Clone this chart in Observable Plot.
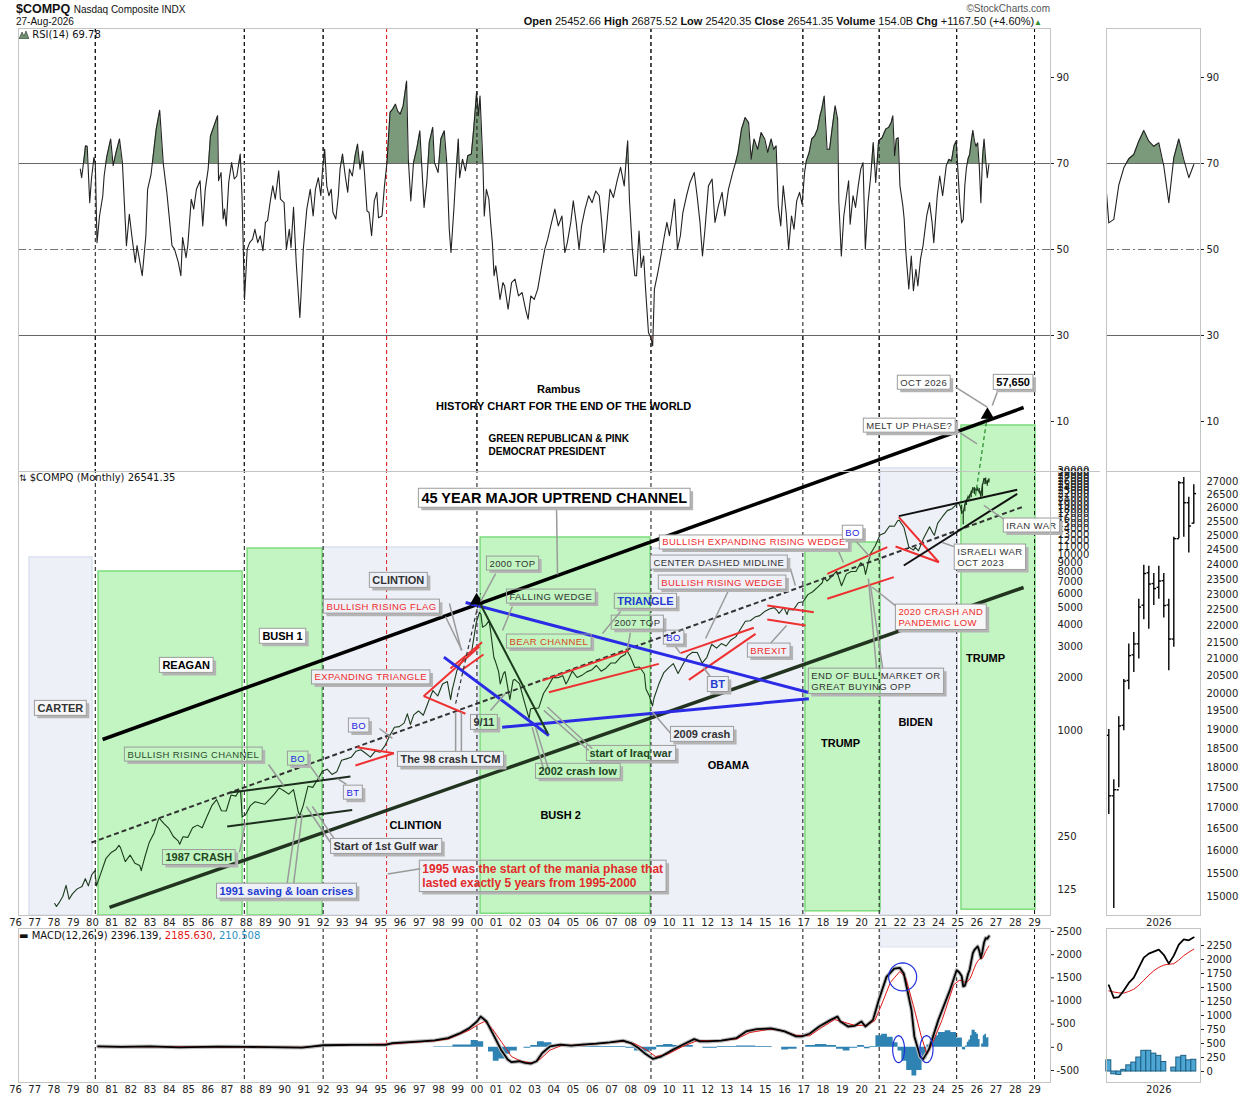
<!DOCTYPE html>
<html><head><meta charset="utf-8">
<script src="https://cdn.jsdelivr.net/npm/d3@7"></script>
<script src="https://cdn.jsdelivr.net/npm/@observablehq/plot@0.6"></script>
<style>
body{margin:0;background:#fff;}
#chart{position:relative;width:1250px;height:1100px;background:#fff;overflow:hidden;font-family:"Liberation Sans",Arial,sans-serif;}
.frame{position:absolute;border:1px solid #c4c4c4;box-sizing:border-box;pointer-events:none;}
.lbl{position:absolute;white-space:nowrap;color:#111;}
</style></head><body>
<div id="chart">
  <div class="lbl" style="left:16px;top:2px;font:bold 12.5px 'Liberation Sans Narrow','Liberation Sans',Arial;">$COMPQ <span style="font-weight:normal;font-size:10px">Nasdaq Composite INDX</span></div>
  <div class="lbl" style="left:16px;top:16px;font:10px 'Liberation Sans Narrow','Liberation Sans',Arial;">27-Aug-2026</div>
  <div class="lbl" style="right:208px;top:15px;font:11px 'Liberation Sans Narrow','Liberation Sans',Arial;"><b>Open</b> 25452.66 <b>High</b> 26875.52 <b>Low</b> 25420.35 <b>Close</b> 26541.35 <b>Volume</b> 154.0B <b>Chg</b> +1167.50 (+4.60%)<span style="color:#2a8a2a;font-size:8px">▲</span></div>
  <div class="lbl" style="right:200px;top:3px;font:10px 'Liberation Sans',Arial;color:#555">©StockCharts.com</div>
</div>
<script>
// ---------------- DATA ----------------
const yearTicks = d3.range(1976, 2030);
const priceTicks = [125, 250, 1000, 2000, 3000, 4000, 5000, 6000, 7000, 8000, 9000, 10000, 11000, 12000, 13000, 14000, 15000, 16000, 17000, 18000, 19000, 20000, 21000, 22000, 23000, 24000, 25000, 26000, 27000, 28000, 29000, 30000];
const rsiTicks = [10, 30, 50, 70, 90];
const macdTicks = [-500, 0, 500, 1000, 1500, 2000, 2500];
const miniPriceTicks = d3.range(15000, 27001, 500);
const miniMacdTicks = [0, 250, 500, 750, 1000, 1250, 1500, 1750, 2000, 2250];

const eventLines = [1980.15, 1987.9, 1992.0, 2000.0, 2009.05, 2016.95, 2020.92, 2024.95, 2029.0];
const maniaLine = [1995.3];

// monthly closes, year as decimal
const priceHistory = [
[1978.04,104],[1978.13,100],[1978.29,106],[1978.46,114],[1978.63,132],[1978.79,110],[1978.96,118],
[1979.21,126],[1979.46,130],[1979.63,144],[1979.79,131],[1979.96,151],
[1980.13,160],[1980.21,131],[1980.46,157],[1980.71,188],[1980.96,202],
[1981.21,210],[1981.38,223],[1981.46,216],[1981.71,180],[1981.96,196],
[1982.21,176],[1982.46,171],[1982.54,160],[1982.71,188],[1982.96,232],
[1983.21,262],[1983.46,319],[1983.71,297],[1983.96,279],
[1984.21,250],[1984.46,236],[1984.54,226],[1984.71,249],[1984.96,247],
[1985.21,280],[1985.46,290],[1985.71,280],[1985.96,325],
[1986.21,374],[1986.46,405],[1986.71,350],[1986.96,349],
[1987.21,430],[1987.46,424],[1987.63,455],[1987.71,444],[1987.79,323],[1987.96,331],
[1988.21,374],[1988.46,394],[1988.71,387],[1988.96,381],
[1989.21,406],[1989.46,435],[1989.71,472],[1989.96,455],
[1990.21,435],[1990.46,462],[1990.71,344],[1990.79,330],[1990.96,373],
[1991.21,482],[1991.46,475],[1991.71,527],[1991.96,586],
[1992.21,603],[1992.46,563],[1992.71,583],[1992.96,677],
[1993.21,690],[1993.46,704],[1993.71,763],[1993.96,777],
[1994.21,743],[1994.46,706],[1994.71,764],[1994.96,752],
[1995.21,817],[1995.46,933],[1995.71,1044],[1995.96,1052],
[1996.21,1101],[1996.38,1243],[1996.54,1080],[1996.71,1226],[1996.96,1291],
[1997.21,1221],[1997.46,1442],[1997.71,1686],[1997.96,1570],
[1998.21,1835],[1998.46,1895],[1998.63,1499],[1998.71,1694],[1998.96,2193],
[1999.21,2461],[1999.46,2686],[1999.71,2746],[1999.96,4069],
[2000.13,4697],[2000.21,4573],[2000.29,3861],[2000.46,3966],[2000.63,4206],[2000.71,3673],[2000.88,2598],[2000.96,2471],
[2001.13,2152],[2001.21,1840],[2001.38,2110],[2001.46,2160],[2001.71,1498],[2001.88,1931],[2001.96,1950],
[2002.21,1845],[2002.46,1463],[2002.71,1172],[2002.79,1330],[2002.96,1336],
[2003.21,1341],[2003.46,1623],[2003.71,1787],[2003.96,2003],
[2004.21,1994],[2004.46,2048],[2004.63,1838],[2004.71,1897],[2004.96,2175],
[2005.21,1999],[2005.46,2057],[2005.71,2152],[2005.96,2205],
[2006.21,2340],[2006.46,2172],[2006.71,2258],[2006.96,2415],
[2007.21,2422],[2007.46,2603],[2007.71,2701],[2007.79,2859],[2007.96,2652],
[2008.21,2279],[2008.46,2293],[2008.71,2092],[2008.79,1721],[2008.96,1577],
[2009.13,1377],[2009.21,1529],[2009.46,1835],[2009.71,2122],[2009.96,2269],
[2010.21,2398],[2010.46,2109],[2010.71,2369],[2010.96,2653],
[2011.21,2781],[2011.46,2774],[2011.71,2415],[2011.96,2605],
[2012.21,3091],[2012.46,2935],[2012.71,3116],[2012.96,3020],
[2013.21,3268],[2013.46,3403],[2013.71,3771],[2013.96,4177],
[2014.21,4199],[2014.46,4408],[2014.71,4493],[2014.96,4736],
[2015.21,4901],[2015.46,4987],[2015.63,4776],[2015.71,4620],[2015.96,5007],
[2016.13,4558],[2016.21,4870],[2016.46,4843],[2016.71,5312],[2016.96,5383],
[2017.21,5912],[2017.46,6140],[2017.71,6496],[2017.96,6903],
[2018.04,7411],[2018.21,7063],[2018.46,7510],[2018.71,8046],[2018.96,6635],
[2019.21,7729],[2019.46,8006],[2019.71,7999],[2019.96,8973],
[2020.13,8567],[2020.21,7700],[2020.46,10058],[2020.71,11168],[2020.96,12888],
[2021.21,13247],[2021.46,14504],[2021.71,14448],[2021.88,15538],[2021.96,15645],
[2022.21,14220],[2022.46,11029],[2022.71,10576],[2022.79,10988],[2022.96,10466],
[2023.21,12222],[2023.46,13788],[2023.54,14346],[2023.71,13219],[2023.79,12851],[2023.96,15011],
[2024.21,16379],[2024.46,17733],[2024.71,18189],[2024.96,19311],
[2025.04,19627],[2025.13,18847]
];

const rsiHistory = [
[1979.37,68.7],[1979.44,66.7],[1979.55,70.6],[1979.64,74.1],[1979.73,74.0],[1979.86,60.9],[1979.95,66.4],[1980.08,71.4],[1980.15,70.2],[1980.24,51.6],[1980.37,57.8],[1980.54,62.5],[1980.61,67.1],[1980.74,71.4],[1980.95,75.7],[1981.08,69.5],[1981.23,72.6],[1981.41,75.7],[1981.56,70.2],[1981.77,50.9],[1981.92,58.2],[1982.05,53.2],[1982.23,47.0],[1982.32,50.9],[1982.59,43.9],[1982.78,53.2],[1982.87,64.0],[1983.05,67.5],[1983.32,78.0],[1983.50,82.4],[1983.69,69.8],[1983.87,63.3],[1984.14,50.9],[1984.27,50.1],[1984.47,47.0],[1984.60,43.9],[1984.69,52.8],[1984.87,48.1],[1984.96,50.9],[1985.14,61.7],[1985.27,59.4],[1985.41,64.0],[1985.60,66.0],[1985.74,55.5],[1985.87,64.0],[1986.02,68.7],[1986.14,76.4],[1986.33,78.8],[1986.51,81.1],[1986.56,66.0],[1986.69,67.9],[1986.80,57.1],[1986.87,59.4],[1986.96,55.5],[1987.09,65.6],[1987.24,70.2],[1987.38,66.4],[1987.51,67.1],[1987.69,72.2],[1987.78,62.5],[1987.91,38.4],[1988.05,50.1],[1988.18,51.6],[1988.33,52.4],[1988.45,54.7],[1988.60,51.6],[1988.73,53.2],[1988.87,49.7],[1989.00,56.3],[1989.11,56.7],[1989.24,60.9],[1989.38,64.8],[1989.51,61.7],[1989.69,68.3],[1989.78,61.7],[1989.97,60.9],[1990.09,50.1],[1990.24,54.7],[1990.33,50.5],[1990.46,59.8],[1990.60,47.0],[1990.79,34.2],[1990.97,50.1],[1991.15,59.4],[1991.33,64.0],[1991.48,57.8],[1991.60,64.0],[1991.75,66.7],[1991.88,62.5],[1991.97,68.7],[1992.08,73.3],[1992.19,64.8],[1992.30,62.5],[1992.42,64.0],[1992.51,58.6],[1992.66,57.1],[1992.79,62.5],[1992.88,68.7],[1993.01,72.2],[1993.15,67.1],[1993.28,63.3],[1993.37,68.7],[1993.52,67.1],[1993.66,71.8],[1993.79,74.5],[1993.92,68.7],[1994.06,72.9],[1994.15,67.9],[1994.28,59.0],[1994.39,58.6],[1994.52,53.2],[1994.66,61.3],[1994.79,63.3],[1994.88,57.4],[1995.06,57.8],[1995.19,64.8],[1995.32,70.2],[1995.48,81.9],[1995.61,82.6],[1995.76,83.8],[1995.88,82.2],[1996.01,81.5],[1996.16,83.4],[1996.34,89.2],[1996.43,71.0],[1996.56,61.3],[1996.70,70.2],[1996.88,73.7],[1997.03,77.6],[1997.12,70.2],[1997.25,59.8],[1997.39,65.6],[1997.52,74.9],[1997.70,78.4],[1997.79,70.2],[1997.98,67.9],[1998.12,75.7],[1998.30,77.6],[1998.43,70.2],[1998.56,54.7],[1998.65,49.3],[1998.80,59.4],[1998.89,66.4],[1999.03,75.7],[1999.10,66.7],[1999.25,71.0],[1999.40,68.3],[1999.52,71.8],[1999.71,72.2],[1999.83,78.0],[1999.98,86.5],[2000.07,81.1],[2000.16,85.7],[2000.31,70.2],[2000.38,57.8],[2000.49,64.0],[2000.62,61.7],[2000.71,56.3],[2000.80,51.6],[2000.89,43.9],[2000.98,46.2],[2001.07,43.1],[2001.20,38.4],[2001.35,42.3],[2001.44,41.5],[2001.62,36.1],[2001.80,42.3],[2001.98,43.1],[2002.16,39.2],[2002.35,40.0],[2002.53,36.1],[2002.66,33.8],[2002.80,39.2],[2002.98,38.4],[2003.16,40.8],
[2003.40,47.0],[2003.53,50.1],[2003.68,52.4],[2003.86,55.9],[2004.05,59.4],[2004.23,55.5],[2004.42,57.8],[2004.57,49.3],[2004.70,51.6],[2004.88,56.3],[2005.01,61.3],[2005.16,56.3],[2005.31,50.1],[2005.44,55.5],[2005.62,59.4],[2005.81,62.5],[2005.99,60.9],[2006.18,63.6],[2006.36,62.5],[2006.49,56.3],[2006.60,49.3],[2006.73,54.7],[2006.92,64.0],[2007.10,62.1],[2007.29,66.0],[2007.47,69.1],[2007.66,64.8],[2007.75,70.2],[2007.84,75.3],[2007.93,61.7],[2008.08,50.1],[2008.21,43.9],[2008.30,43.9],[2008.43,54.3],[2008.54,45.8],[2008.67,48.5],[2008.77,40.8],[2008.92,30.7],[2009.04,29.5],[2009.14,27.6],[2009.23,40.8],[2009.41,44.7],[2009.60,49.3],[2009.75,53.2],[2009.88,56.3],[2010.01,53.2],[2010.16,57.8],[2010.28,61.7],[2010.43,50.1],[2010.58,53.2],[2010.71,58.6],[2010.90,62.5],[2011.08,65.6],[2011.30,67.9],[2011.45,62.5],[2011.60,56.3],[2011.73,48.5],[2011.86,54.7],[2012.04,64.8],[2012.23,66.4],[2012.38,56.3],[2012.56,60.2],[2012.75,63.3],[2012.89,57.8],[2013.08,64.0],[2013.30,67.9],[2013.45,70.2],[2013.58,72.6],[2013.76,78.0],[2013.95,80.7],[2014.13,79.5],[2014.26,71.0],[2014.41,75.7],[2014.60,73.3],[2014.78,77.2],[2014.97,75.7],[2015.12,72.6],[2015.30,75.7],[2015.43,73.3],[2015.56,74.1],[2015.67,60.2],[2015.80,55.5],[2015.93,64.8],[2016.08,58.6],[2016.21,50.1],[2016.36,57.8],[2016.49,54.7],[2016.63,61.3],[2016.78,63.3],[2016.91,60.5],[2017.04,67.9],[2017.13,70.6],[2017.28,72.6],[2017.41,75.7],[2017.56,76.4],[2017.71,78.0],[2017.84,81.1],[2017.93,82.6],[2018.06,85.7],[2018.21,73.3],[2018.34,73.3],[2018.48,78.4],[2018.63,83.4],[2018.76,80.3],[2018.82,61.3],[2018.95,48.5],[2019.08,57.8],[2019.22,62.5],[2019.33,66.0],[2019.41,55.9],[2019.56,62.5],[2019.69,59.8],[2019.83,64.8],[2019.96,68.7],[2020.08,70.2],[2020.20,50.1],[2020.34,60.9],[2020.48,67.1],[2020.61,74.9],[2020.74,65.6],[2020.89,75.3],[2021.07,76.0],[2021.26,78.0],[2021.41,78.4],[2021.54,79.5],[2021.63,81.1],[2021.72,71.8],[2021.81,75.7],[2021.91,76.0],[2022.00,64.8],[2022.15,60.2],[2022.22,57.1],[2022.31,49.3],[2022.46,40.8],[2022.59,48.5],[2022.70,40.4],[2022.83,45.4],[2022.93,41.5],[2023.07,47.8],[2023.20,50.9],[2023.39,57.8],[2023.54,60.9],[2023.67,56.3],[2023.76,51.6],[2023.94,62.5],[2024.07,67.1],[2024.22,62.5],[2024.41,69.5],[2024.55,71.0],[2024.68,70.6],[2024.81,74.1],[2024.93,75.3],[2025.00,69.5],[2025.11,60.9]
];

const macdHistory = [
[1980.3,20],[1981.5,10],[1983.0,20],[1984.5,0],[1986.5,15],[1988.0,10],[1990.9,-5],[1991.5,20],[1992.0,45],[1993.5,55],[1995.25,55],[1995.6,90],[1997.1,130],[1997.8,150],[1998.5,200],[1999.1,300],[1999.6,414],[2000.0,557],[2000.2,664],[2000.5,557],[2000.9,236],[2001.25,-50],[2001.6,-264],[2001.8,-321],[2002.2,-300],[2002.5,-336],[2002.8,-350],[2003.1,-300],[2003.4,-121],[2003.8,21],[2004.35,57],[2004.9,36],[2005.45,57],[2006.2,78],[2006.9,107],[2007.6,143],[2008.0,93],[2008.4,-14],[2008.7,-121],[2009.16,-250],[2009.6,-193],[2010.2,-50],[2010.7,57],[2011.3,178],[2011.6,128],[2012.0,128],[2012.7,143],[2013.5,200],[2014.0,343],[2014.55,393],[2015.3,407],[2015.65,378],[2016.0,343],[2016.6,236],[2016.9,236],[2017.3,293],[2017.8,450],[2018.4,593],[2018.75,664],[2018.9,557],[2019.3,450],[2019.65,464],[2020.0,557],[2020.2,450],[2020.6,593],[2020.9,1021],[2021.3,1521],[2021.7,1700],[2022.0,1714],[2022.2,1593],[2022.6,807],[2022.75,236],[2023.05,-193],[2023.2,-260],[2023.5,-50],[2024.0,593],[2024.6,1236],[2024.95,1664],[2025.08,1620]
];
const signalHistory = [
[1980.3,15],[1985.0,10],[1990.9,0],[1992.0,40],[1995.6,75],[1997.8,140],[1998.5,180],[1999.6,370],[2000.1,500],[2000.4,560],[2000.8,400],[2001.3,100],[2001.8,-200],[2002.3,-300],[2002.9,-340],[2003.3,-250],[2003.8,-60],[2004.4,40],[2005.5,50],[2007.6,130],[2008.2,80],[2008.8,-50],[2009.3,-200],[2009.9,-150],[2010.7,20],[2011.5,150],[2012.5,140],[2013.5,180],[2014.2,320],[2015.2,390],[2015.8,370],[2016.6,260],[2017.3,250],[2017.9,420],[2018.6,600],[2019.1,540],[2019.7,470],[2020.3,480],[2020.7,580],[2021.1,980],[2021.5,1400],[2022.0,1640],[2022.3,1500],[2022.7,900],[2023.1,250],[2023.4,-150],[2023.7,100],[2024.2,600],[2024.8,1350],[2025.08,1445]
];
const histHistory = [
[1980.0,0],[1997.5,0],[1998.0,10],[1999.5,50],[1999.9,150],[2000.2,120],[2000.5,0],[2000.7,-100],[2001.0,-300],[2001.3,-250],[2001.6,-150],[2001.9,-80],[2002.3,0],[2002.6,-20],[2003.0,40],[2003.3,120],[2003.7,100],[2004.1,40],[2004.6,0],[2005.5,20],[2006.5,20],[2007.5,20],[2008.0,-20],[2008.4,-80],[2008.8,-100],[2009.2,-60],[2009.5,40],[2009.9,60],[2010.5,40],[2011.0,40],[2011.5,0],[2012.0,-20],[2013.0,20],[2014.0,30],[2015.0,20],[2015.7,0],[2016.0,-60],[2016.4,-40],[2016.9,0],[2017.3,40],[2017.9,60],[2018.5,40],[2018.9,-40],[2019.2,-80],[2019.6,-20],[2020.0,40],[2020.3,-30],[2020.6,20],[2020.9,250],[2021.2,280],[2021.5,220],[2021.8,100],[2022.0,-80],[2022.2,-300],[2022.5,-500],[2022.75,-620],[2023.0,-500],[2023.3,-250],[2023.5,50],[2023.8,250],[2024.2,320],[2024.5,360],[2024.8,320],[2025.08,200]
];

// last 18 monthly bars (Mar 2025 .. Aug 2026), right-hand panels
const recentMonths = ["2025-03","2025-04","2025-05","2025-06","2025-07","2025-08","2025-09","2025-10","2025-11","2025-12","2026-01","2026-02","2026-03","2026-04","2026-05","2026-06","2026-07","2026-08"];
const recentOpen  = [18847,17299,17446,19114,20370,21122,21456,22660,23725,23366,23242,23462,22668,21600,24900,26950,26200,25452.66];
const recentHigh  = [19000,17700,19350,20400,21450,21800,22850,23980,23950,23700,23950,23700,22850,24950,27000,27150,26400,26875.52];
const recentLow   = [16850,14750,17500,18970,20100,20600,21000,22200,21900,22650,22850,22250,20650,21350,24900,24950,24400,25420.35];
const recentClose = [17300,17450,19100,20350,21100,21450,22600,23700,23350,23200,23450,22650,21600,24900,26950,26200,25350,26541.35];
const recentRsi   = [56.2,57,65,69,71.1,72.1,75.2,77.7,75.2,74,74.8,69.4,60.9,71.3,75.7,70.9,66.7,69.78];
const recentMacd  = [1540,1316,1330,1445,1582,1675,1855,2034,2106,2142,2178,2085,1927,2070,2264,2358,2343,2396.139];
const recentSignal= [1440,1420,1405,1400,1430,1470,1540,1630,1720,1800,1860,1900,1915,1925,1990,2070,2130,2185.63];
const recentHist  = [200,-50,-60,30,110,160,250,370,370,320,280,170,0,70,250,280,200,210.508];
const miniRsiEdge = [[-0.45,63]];

const termBoxes = [
 {name:"Carter", party:"D", start:1976.73, end:1980.0, top:9610, bottom:89},
 {name:"Reagan", party:"R", start:1980.32, end:1987.81, top:8000, bottom:89},
 {name:"Bush 1", party:"R", start:1988.07, end:1991.97, top:10800, bottom:89},
 {name:"Clinton", party:"D", start:1991.97, end:2000.08, top:10950, bottom:89},
 {name:"Bush 2", party:"R", start:2000.19, end:2009.03, top:12480, bottom:91},
 {name:"Obama", party:"D", start:2009.03, end:2017.09, top:10800, bottom:89},
 {name:"Trump", party:"R", start:2017.09, end:2020.99, top:11690, bottom:94},
 {name:"Biden", party:"D", start:2020.99, end:2025.0, top:30770, bottom:89, macdTop:2155},
 {name:"Trump 2", party:"R", start:2025.2, end:2029.05, top:54000, bottom:96}
];

const trendLines = [
 {style:"channel", x1:1980.53, y1:889, x2:2028.43, y2:68300},
 {style:"channelLow", x1:1980.89, y1:98.9, x2:2028.43, y2:6490},
 {style:"mid", x1:1979.95, y1:231, x2:2028.43, y2:18700},
 {style:"thin", x1:1987.18, y1:444, x2:1993.42, y2:548},
 {style:"thin", x1:1987.01, y1:285, x2:1993.51, y2:354},
 {style:"red", x1:1993.77, y1:804, x2:1995.68, y2:743},
 {style:"red", x1:1993.68, y1:633, x2:1995.68, y2:743},
 {style:"red", x1:1997.23, y1:1566, x2:2000.13, y2:3000},
 {style:"red", x1:1997.23, y1:1566, x2:1999.40, y2:1244},
 {style:"red", x1:1998.62, y1:2250, x2:2000.27, y2:3170},
 {style:"red", x1:1999.25, y1:2220, x2:2000.34, y2:2700},
 {style:"dash", x1:1998.89, y1:1420, x2:2000.19, y2:6000},
 {style:"blue", x1:1999.41, y1:5330, x2:2017.25, y2:1644},
 {style:"blue", x1:2001.31, y1:1044, x2:2017.26, y2:1514},
 {style:"blue", x1:1998.28, y1:2610, x2:2003.74, y2:937},
 {style:"wedge", x1:2000.08, y1:5470, x2:2003.69, y2:958},
 {style:"red", x1:2003.40, y1:1920, x2:2007.90, y2:2850},
 {style:"red", x1:2003.74, y1:1650, x2:2009.46, y2:2390},
 {style:"red", x1:2010.59, y1:2750, x2:2014.40, y2:3830},
 {style:"red", x1:2011.02, y1:1940, x2:2014.49, y2:3540},
 {style:"red", x1:2015.10, y1:5130, x2:2017.52, y2:4700},
 {style:"red", x1:2015.10, y1:4270, x2:2017.09, y2:3950},
 {style:"red", x1:2018.22, y1:7760, x2:2021.34, y2:11000},
 {style:"red", x1:2018.22, y1:5600, x2:2021.68, y2:7430},
 {style:"red", x1:2021.94, y1:16300, x2:2024.02, y2:9030},
 {style:"red", x1:2021.77, y1:11100, x2:2024.02, y2:9030},
 {style:"black2", x1:2021.94, y1:16500, x2:2028.10, y2:23300},
 {style:"black2", x1:2022.20, y1:8650, x2:2028.10, y2:22100},
 {style:"melt", x1:2025.93, y1:21600, x2:2026.55, y2:62000}
];
const markers = [{x:1999.98, y:5470}, {x:2026.55, y:62000}];

const callouts = [
 {text:"CARTER", x:1977.14, y:1442, style:"boldDark", box:"light"},
 {text:"REAGAN", x:1983.64, y:2530, style:"boldBlack", box:"white"},
 {text:"BUSH 1", x:1988.84, y:3700, style:"boldBlack", box:"white"},
 {text:"CLINTION", x:1994.56, y:7690, style:"boldDark", box:"lav"},
 {text:"BULLISH RISING FLAG", x:1992.17, y:5400, style:"capsRed", box:"lav"},
 {text:"EXPANDING TRIANGLE", x:1991.55, y:2140, style:"capsRed", box:"lav"},
 {text:"BO", x:1993.47, y:1140, style:"capsBlue", box:"lav"},
 {text:"BULLISH RISING CHANNEL", x:1981.82, y:780, style:"capsGreen", box:"none"},
 {text:"BO", x:1990.30, y:740, style:"capsBlue", box:"none"},
 {text:"BT", x:1993.21, y:474, style:"capsBlue", box:"lav"},
 {text:"The 98 crash LTCM", x:1996.02, y:740, style:"boldDark", box:"lav"},
 {text:"1987 CRASH", x:1983.80, y:205, style:"boldGreen", box:"none"},
 {text:"Start of 1st Gulf war", x:1992.54, y:237, style:"boldDark", box:"lav"},
 {text:"1991 saving & loan crises", x:1986.61, y:132, style:"boldBlue", box:"lav"},
 {text:"45 YEAR MAJOR UPTREND CHANNEL", x:1997.11, y:23100, style:"boldBig", box:"white"},
 {text:"2000 TOP", x:2000.65, y:9480, style:"capsDark", box:"none"},
 {text:"FALLING WEDGE", x:2001.69, y:6160, style:"capsDark", box:"none"},
 {text:"TRIANGLE", x:2007.30, y:5850, style:"boldBlue", box:"none"},
 {text:"2007 TOP", x:2007.14, y:4380, style:"capsDark", box:"none"},
 {text:"BEAR CHANNEL", x:2001.69, y:3420, style:"capsBear", box:"none"},
 {text:"BO", x:2009.85, y:3600, style:"capsBlue", box:"none"},
 {text:"BT", x:2012.14, y:1970, style:"boldBlue", box:"lav"},
 {text:"BULLISH EXPANDING RISING WEDGE", x:2009.64, y:12500, style:"capsRed", box:"white"},
 {text:"CENTER DASHED MIDLINE", x:2009.18, y:9610, style:"capsDark", box:"lav"},
 {text:"BULLISH RISING WEDGE", x:2009.59, y:7400, style:"capsRed", box:"lav"},
 {text:"BREXIT", x:2014.22, y:3040, style:"capsRed", box:"lav"},
 {text:"END OF BULL MARKET OR\nGREAT BUYING OPP", x:2017.39, y:2190, style:"capsDark", box:"none"},
 {text:"9/11", x:1999.82, y:1200, style:"boldDark", box:"none"},
 {text:"start of Iraq war", x:2005.85, y:800, style:"boldGreen", box:"none"},
 {text:"2002 crash low", x:2003.20, y:633, style:"boldGreen", box:"none"},
 {text:"2009 crash", x:2010.22, y:1026, style:"boldDark", box:"lav"},
 {text:"1995 was the start of the mania phase that\nlasted exactly 5 years from 1995-2000", x:1997.16, y:178, style:"boldRed", box:"none"},
 {text:"BO", x:2019.16, y:14200, style:"capsBlue", box:"white"},
 {text:"2020 CRASH AND\nPANDEMIC LOW", x:2021.92, y:5060, style:"capsRed", box:"light"},
 {text:"ISRAELI WAR\nOCT 2023", x:2024.98, y:11100, style:"capsDark", box:"white"},
 {text:"IRAN WAR", x:2027.53, y:15600, style:"capsDark", box:"white"},
 {text:"MELT UP PHASE?", x:2020.25, y:57600, style:"capsDark", box:"white"},
 {text:"OCT 2026", x:2022.02, y:101000, style:"capsDark", box:"white"},
 {text:"57,650", x:2027.01, y:102500, style:"boldBlack", box:"white"}
];
const calloutPointers = [
 [1998.57,5260,1999.19,2850],[1998.36,4440,1999.22,2850],[1994.93,1026,1995.60,901],[1989.16,641,1989.94,487],
 [1991.34,625,1991.86,520],[1993.21,494,1992.75,533],[1998.89,760,1998.89,1270],[1999.19,760,1999.19,1270],
 [1987.65,203,1987.96,300],[1992.38,231,1991.13,370],[1992.64,237,1991.44,370],[1990.13,136,1990.65,336],
 [1990.47,136,1990.91,336],[2004.14,18000,2004.19,7690],[2000.97,7790,2000.19,5400],[2001.84,5060,2001.33,3700],
 [2007.47,4740,2006.53,3560],[2007.98,3600,2007.82,2880],[2010.32,3000,2010.58,2740],[2012.14,2020,2011.78,2280],
 [2018.74,10800,2019.06,9000],[2016.30,8320,2016.56,6660],[2013.08,6240,2011.89,3330],[2015.26,3120,2016.10,3950],
 [2020.78,2250,2020.36,7300],[2021.10,2250,2020.47,6660],[2000.70,1300,2001.48,1620],[2005.82,770,2003.48,1300],
 [2006.00,787,2003.66,1360],[2003.48,593,2002.87,1044],[2003.74,593,2003.05,1044],[2010.17,937,2009.13,1270],
 [1997.06,164,1995.36,153],[2019.68,12000,2020.47,9610],[2021.86,5020,2020.56,6510],[2024.89,11000,2024.20,11700],
 [2027.49,15600,2026.36,19000],[2024.53,54000,2026.01,42500],[2024.89,89100,2026.54,68600],[2027.06,83500,2026.80,70100]
];
const presidentLabels = [
 {text:"CLINTION", x:1996.80, y:289}, {text:"BUSH 2", x:2004.35, y:329}, {text:"OBAMA", x:2013.08, y:633},
 {text:"TRUMP", x:2018.91, y:844}, {text:"BIDEN", x:2022.81, y:1110}, {text:"TRUMP", x:2026.45, y:2560}
];
const titleCenter = [
 {text:"Rambus", x:2004.25, y:86500},
 {text:"HISTORY CHART FOR THE END OF THE WORLD", x:2004.51, y:69200}
];
const titleLeft = [
 {text:"GREEN REPUBLICAN & PINK", x:2000.60, y:45500},
 {text:"DEMOCRAT PRESIDENT", x:2000.60, y:38400}
];
const macdCircles = [{cx:2022.14, cy:1520, rx:0.73, ry:302}, {cx:2021.93, cy:-40, rx:0.31, ry:291}, {cx:2023.38, cy:-40, rx:0.34, ry:291}];

// ---------------- SCALES / LAYOUT ----------------
const X_DOMAIN = [1975.48, 2029.83];
const FRAME_LEFT = 1976.16;
const PRICE_DOMAIN = [88.95, 9.71e6];
const RSI_DOMAIN = [-1.63, 101.4];
const MACD_DOMAIN = [-759, 2565];
const MINI_X = [-0.46, 18.34];
const MINI_PRICE = [14602, 27385];
const MINI_MACD = [-196, 2554];
const fmtYear = d => String(d).slice(2);
const recentDate = i => 2025 + (2 + i + 0.5) / 12;

const priceSeries = priceHistory.concat(recentClose.map((v, i) => [recentDate(i), v]));
const rsiSeries = rsiHistory.concat(recentRsi.map((v, i) => [recentDate(i), v]));
const macdSeries = macdHistory.concat(recentMacd.map((v, i) => [recentDate(i), v]));
const signalSeries = signalHistory.concat(recentSignal.map((v, i) => [recentDate(i), v]));
const histSeries = histHistory.concat(recentHist.map((v, i) => [recentDate(i), v]));
const recentBars = recentMonths.map((m, i) => ({i, date: recentDate(i), o: recentOpen[i], h: recentHigh[i], l: recentLow[i], c: recentClose[i], rsi: recentRsi[i], macd: recentMacd[i], sig: recentSignal[i], hist: recentHist[i]}));
const miniRsiSeries = miniRsiEdge.concat(recentRsi.map((v, i) => [i, v]));

const chart = document.getElementById("chart");
const DJ = "'DejaVu Sans', Verdana, sans-serif";
const baseStyle = {background: "transparent", fontFamily: DJ, fontSize: "10px", color: "#222", overflow: "visible"};
function mount(svg) {
  svg.style.position = "absolute"; svg.style.left = "0px"; svg.style.top = "0px";
  svg.style.maxWidth = "none"; svg.style.background = "transparent";
  chart.appendChild(svg);
  return svg;
}

const lineStyles = {
  channel: {stroke:"#000", strokeWidth:3.5},
  channelLow: {stroke:"#22331f", strokeWidth:3.5},
  mid: {stroke:"#333", strokeWidth:2, strokeDasharray:"5,3"},
  thin: {stroke:"#1d2d1d", strokeWidth:2},
  red: {stroke:"#ee3030", strokeWidth:2},
  blue: {stroke:"#2b2be6", strokeWidth:3},
  wedge: {stroke:"#1c3a1c", strokeWidth:2},
  dash: {stroke:"#333", strokeWidth:1.2, strokeDasharray:"4,3"},
  black2: {stroke:"#111", strokeWidth:2},
  melt: {stroke:"#2f8f2f", strokeWidth:1.3, strokeDasharray:"4,3"}
};

// ---------------- PRICE PANEL ----------------
mount(Plot.plot({
  width: 1100, height: 940, marginLeft: 5, marginRight: 50, marginTop: 28, marginBottom: 25,
  style: baseStyle,
  x: {domain: X_DOMAIN, ticks: yearTicks, tickFormat: fmtYear, tickSize: 0, tickPadding: 3, label: null},
  y: {type: "log", domain: PRICE_DOMAIN, axis: null},
  marks: [
    Plot.rect(termBoxes.filter(d => d.party === "D"), {x1: "start", x2: "end", y1: "bottom", y2: "top", fill: "#eef0f8", stroke: "#dbe1f0", strokeWidth: 1.5}),
    Plot.rect(termBoxes.filter(d => d.party === "R"), {x1: "start", x2: "end", y1: "bottom", y2: "top", fill: "#c2f5c2", stroke: "#7ddc7d", strokeWidth: 1.5}),
    Plot.ruleX(eventLines, {stroke: "#111", strokeWidth: 1, strokeDasharray: "4,3"}),
    Plot.ruleX(maniaLine, {stroke: "#e02424", strokeWidth: 1, strokeDasharray: "4,3"}),
    Plot.line(priceSeries, {x: d => d[0], y: d => d[1], stroke: "#1b3b1b", strokeWidth: 1.1}),
    Plot.ruleX(recentBars, {x: "date", y1: "l", y2: "h", stroke: "#1b3b1b", strokeWidth: 1.2}),
    ...Object.entries(lineStyles).map(([k, s]) => Plot.link(trendLines.filter(d => d.style === k), {x1: "x1", y1: "y1", x2: "x2", y2: "y2", ...s})),
    Plot.dot(markers, {x: "x", y: "y", symbol: "triangle", r: 5, fill: "#000", stroke: "none"}),
    // right-hand price scale labels
    Plot.link(priceTicks, {x1: X_DOMAIN[1], x2: X_DOMAIN[1], y1: d => d, y2: d => d, dx: 0, stroke: "#888", strokeWidth: 1, markerEnd: null}),
    Plot.text(priceTicks, {x: X_DOMAIN[1], y: d => d, text: d => String(d), textAnchor: "start", dx: 7, fontSize: 10, fill: "#222", fontFamily: DJ})
  ]
}));

// ---------------- RSI PANEL ----------------
const rsiPlot = (xDomain, leftEdge, series, axisOpts, showRules) => Plot.plot({
  width: axisOpts.width, height: 480, marginLeft: axisOpts.left, marginRight: 50, marginTop: 28, marginBottom: 9,
  style: baseStyle,
  x: {domain: xDomain, axis: null},
  y: {domain: RSI_DOMAIN, axis: "right", ticks: rsiTicks, tickSize: 3, tickPadding: 3, label: null},
  marks: [
    Plot.areaY(series, {x: d => d[0], y1: 70, y2: d => Math.max(d[1], 30), fill: "#7b9a7b"}),
    Plot.areaY(series, {x: d => d[0], y1: 30, y2: d => Math.min(d[1], 70), fill: "#f08a8a"}),
    Plot.rect([0], {x1: xDomain[0], x2: xDomain[1], y1: 30, y2: 70, fill: "white"}),
    showRules ? Plot.ruleX(eventLines, {stroke: "#111", strokeWidth: 1, strokeDasharray: "4,3"}) : null,
    showRules ? Plot.ruleX(maniaLine, {stroke: "#e02424", strokeWidth: 1, strokeDasharray: "4,3"}) : null,
    Plot.ruleY([70, 30], {x1: leftEdge, x2: xDomain[1], stroke: "#666", strokeWidth: 1}),
    Plot.ruleY([50], {x1: leftEdge, x2: xDomain[1], stroke: "#777", strokeWidth: 1, strokeDasharray: "8,3,2,3"}),
    Plot.line(series, {x: d => d[0], y: d => d[1], stroke: "#222", strokeWidth: 1.1})
  ].filter(Boolean)
});
mount(rsiPlot(X_DOMAIN, FRAME_LEFT, rsiSeries, {width: 1100, left: 5}, true));
mount(rsiPlot(MINI_X, MINI_X[0], miniRsiSeries, {width: 1250, left: 1106}, false));

// ---------------- CALLOUTS ----------------
const LS = "'Liberation Sans', Arial, sans-serif";
const calloutStyles = {
  boldDark:  {fontFamily: LS, fontWeight: "bold", fontSize: 11, fill: "#333"},
  boldBlack: {fontFamily: LS, fontWeight: "bold", fontSize: 11, fill: "#000"},
  boldBig:   {fontFamily: LS, fontWeight: "bold", fontSize: 14.5, fill: "#000"},
  boldGreen: {fontFamily: LS, fontWeight: "bold", fontSize: 11, fill: "#1f471f"},
  boldBlue:  {fontFamily: LS, fontWeight: "bold", fontSize: 11, fill: "#1e3ccf"},
  boldRed:   {fontFamily: LS, fontWeight: "bold", fontSize: 12, fill: "#e32b2b"},
  capsRed:   {fontFamily: LS, fontSize: 9.5, fill: "#ee2a2a"},
  capsBear:  {fontFamily: LS, fontSize: 9.5, fill: "#d9441a"},
  capsDark:  {fontFamily: LS, fontSize: 9.5, fill: "#333"},
  capsBlue:  {fontFamily: LS, fontSize: 9.5, fill: "#2525e0"},
  capsGreen: {fontFamily: LS, fontSize: 9.5, fill: "#2d4a2d"}
};
const letterSpacing = {capsRed: 0.4, capsBear: 0.4, capsDark: 0.4, capsBlue: 0.4, capsGreen: 0.4};
const boxFill = {none: "none", white: "#ffffff", lav: "#eef0f8", light: "#f6f6f6"};
const textGroups = Object.keys(calloutStyles).map(k => ({k, data: callouts.filter(c => c.style === k)})).filter(g => g.data.length);

const calloutSvg = mount(Plot.plot({
  width: 1100, height: 940, marginLeft: 5, marginRight: 50, marginTop: 28, marginBottom: 25,
  style: baseStyle,
  x: {domain: X_DOMAIN, axis: null},
  y: {type: "log", domain: PRICE_DOMAIN, axis: null},
  marks: [
    Plot.link(calloutPointers, {x1: d => d[0], y1: d => d[1], x2: d => d[2], y2: d => d[3], stroke: "#9a9a9a", strokeWidth: 1.5}),
    ...textGroups.map(g => Plot.text(g.data, {x: "x", y: "y", text: "text", textAnchor: "start", lineAnchor: "top", lineHeight: 1.2, ...calloutStyles[g.k]})),
    Plot.text(presidentLabels, {x: "x", y: "y", text: "text", textAnchor: "middle", fontFamily: LS, fontWeight: "bold", fontSize: 11, fill: "#000"}),
    Plot.text(titleCenter, {x: "x", y: "y", text: "text", textAnchor: "middle", fontFamily: LS, fontWeight: "bold", fontSize: 11, fill: "#000"}),
    Plot.text(titleLeft, {x: "x", y: "y", text: "text", textAnchor: "start", fontFamily: LS, fontWeight: "bold", fontSize: 10, fill: "#000"})
  ]
}));

(function decorate(svg) {
  const ns = "http://www.w3.org/2000/svg";
  const groups = svg.querySelectorAll('g[aria-label="text"]');
  textGroups.forEach((grp, gi) => {
    const g = groups[gi]; if (!g) return;
    const texts = g.querySelectorAll("text");
    texts.forEach((t, i) => {
      const c = grp.data[i]; if (!c) return;
      if (letterSpacing[grp.k]) t.setAttribute("letter-spacing", letterSpacing[grp.k]);
      const bb = t.getBBox();
      const x = bb.x - 3, y = bb.y - 1.5, w = bb.width + 6, h = bb.height + 3;
      const tr = t.getAttribute("transform");
      const sh = document.createElementNS(ns, "path");
      sh.setAttribute("d", `M${x + w + 1.5},${y + 3}V${y + h + 1.5}H${x + 3}`);
      sh.setAttribute("fill", "none"); sh.setAttribute("stroke", "#b4b4b4"); sh.setAttribute("stroke-width", "3");
      const r = document.createElementNS(ns, "rect");
      r.setAttribute("x", x); r.setAttribute("y", y); r.setAttribute("width", w); r.setAttribute("height", h);
      r.setAttribute("fill", boxFill[c.box]); r.setAttribute("stroke", "#9c9c9c"); r.setAttribute("stroke-width", "1");
      if (tr) { sh.setAttribute("transform", tr); r.setAttribute("transform", tr); }
      g.insertBefore(sh, t); g.insertBefore(r, t);
    });
  });
})(calloutSvg);

// ---------------- MACD PANEL ----------------
const ellipsePts = macdCircles.flatMap((c, k) => d3.range(0, 361, 10).map(a => ({k, x: c.cx + c.rx * Math.cos(a * Math.PI / 180), y: c.cy + c.ry * Math.sin(a * Math.PI / 180)})));
mount(Plot.plot({
  width: 1100, height: 1100, marginLeft: 5, marginRight: 50, marginTop: 928, marginBottom: 18,
  style: baseStyle,
  x: {domain: X_DOMAIN, ticks: yearTicks, tickFormat: fmtYear, tickSize: 0, tickPadding: 3, label: null},
  y: {domain: MACD_DOMAIN, axis: "right", ticks: macdTicks, tickFormat: d => String(d), tickSize: 3, tickPadding: 3, label: null},
  marks: [
    Plot.rect(termBoxes.filter(d => d.macdTop), {x1: "start", x2: "end", y1: "macdTop", y2: MACD_DOMAIN[1], fill: "#eef0f8", stroke: "#dbe1f0"}),
    Plot.ruleX(eventLines, {stroke: "#111", strokeWidth: 1, strokeDasharray: "4,3"}),
    Plot.ruleX(maniaLine, {stroke: "#e02424", strokeWidth: 1, strokeDasharray: "4,3"}),
    Plot.areaY(histSeries, {x: d => d[0], y: d => d[1], fill: "#2f83b3", curve: "step"}),
    Plot.line(macdSeries, {x: d => d[0], y: d => d[1], stroke: "#bbb", strokeWidth: 4}),
    Plot.line(signalSeries, {x: d => d[0], y: d => d[1], stroke: "#e01818", strokeWidth: 1}),
    Plot.line(macdSeries, {x: d => d[0], y: d => d[1], stroke: "#000", strokeWidth: 1.8}),
    Plot.line(ellipsePts, {x: "x", y: "y", z: "k", stroke: "#2233dd", strokeWidth: 1.2})
  ]
}));

// ---------------- MINI PRICE ----------------
mount(Plot.plot({
  width: 1250, height: 940, marginLeft: 1106, marginRight: 50, marginTop: 471, marginBottom: 25,
  style: baseStyle,
  x: {domain: MINI_X, ticks: [10], tickFormat: () => "2026", tickSize: 0, tickPadding: 3, label: null},
  y: {type: "log", domain: MINI_PRICE, axis: null},
  marks: [
    Plot.ruleX(recentBars, {x: "i", y1: "l", y2: "h", stroke: "#000", strokeWidth: 1.4}),
    Plot.link(recentBars, {x1: d => d.i - 0.45, x2: "i", y1: "o", y2: "o", stroke: "#000", strokeWidth: 1.4}),
    Plot.link(recentBars, {x1: "i", x2: d => d.i + 0.45, y1: "c", y2: "c", stroke: "#000", strokeWidth: 1.4}),
    Plot.text(miniPriceTicks, {x: MINI_X[1], y: d => d, text: d => String(d), textAnchor: "start", dx: 6, fontSize: 10, fill: "#222", fontFamily: DJ})
  ]
}));

// ---------------- MINI MACD ----------------
mount(Plot.plot({
  width: 1250, height: 1100, marginLeft: 1106, marginRight: 50, marginTop: 928, marginBottom: 18,
  style: baseStyle,
  x: {domain: MINI_X, ticks: [10], tickFormat: () => "2026", tickSize: 0, tickPadding: 3, label: null},
  y: {domain: MINI_MACD, axis: "right", ticks: miniMacdTicks, tickFormat: d => String(d), tickSize: 3, tickPadding: 3, label: null},
  marks: [
    Plot.rect(recentBars, {x1: d => d.i - 0.5, x2: d => d.i + 0.5, y1: 0, y2: "hist", fill: "#4ea6d4", stroke: "#1d5f82", strokeWidth: 1}),
    Plot.line(recentBars, {x: "i", y: "sig", stroke: "#e01818", strokeWidth: 1}),
    Plot.line(recentBars, {x: "i", y: "macd", stroke: "#000", strokeWidth: 1.8})
  ]
}));

// ---------------- FRAMES & PANEL LABELS ----------------
const frames = [[18, 28, 1033, 888], [18, 928, 1033, 155], [1106, 28, 95, 444], [1106, 471, 95, 445], [1106, 928, 95, 155]];
frames.forEach(([l, t, w, h]) => {
  const d = document.createElement("div"); d.className = "frame";
  Object.assign(d.style, {left: l + "px", top: t + "px", width: w + "px", height: h + "px"});
  chart.appendChild(d);
});
const divider = document.createElement("div");
Object.assign(divider.style, {position: "absolute", left: "18px", top: "471px", width: "1082px", height: "1px", background: "#c4c4c4"});
chart.appendChild(divider);

const panelLabels = [
  {left: 19, top: 29, html: '<svg width="10" height="9" style="vertical-align:-1px"><polygon points="0,9 3,2 5,6 7,1 10,9" fill="#6f916f" stroke="#333" stroke-width="0.6"/></svg> RSI(14) 69.78'},
  {left: 19, top: 472, html: '<span style="font-size:9px">⇅</span> $COMPQ (Monthly) 26541.35'},
  {left: 19, top: 930, html: '<b>▬</b> MACD(12,26,9) 2396.139, <span style="color:#e01818">2185.630</span>, <span style="color:#2a8fc0">210.508</span>'}
];
panelLabels.forEach(p => {
  const d = document.createElement("div"); d.className = "lbl";
  Object.assign(d.style, {left: p.left + "px", top: p.top + "px", font: "10px 'DejaVu Sans', Verdana, sans-serif", color: "#111"});
  d.innerHTML = p.html;
  chart.appendChild(d);
});
</script>
</body></html>
